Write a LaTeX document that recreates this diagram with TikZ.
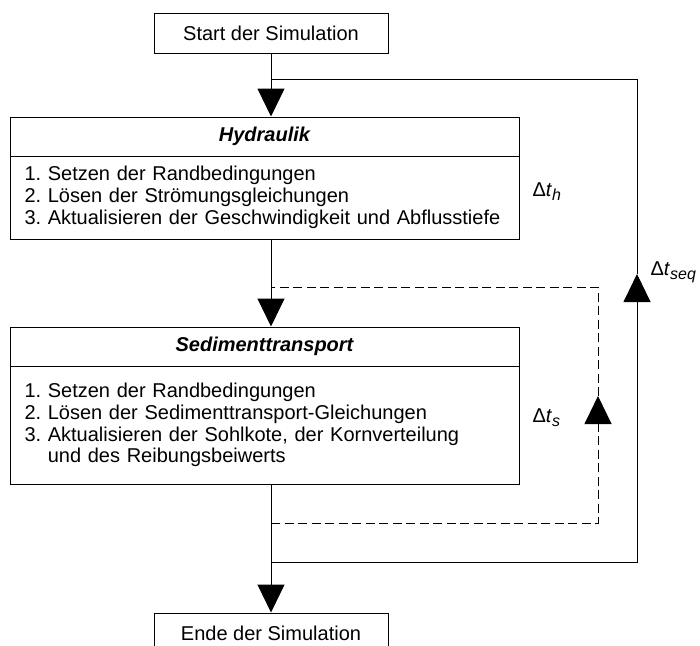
\documentclass[tikz,border=0pt]{standalone}
\usepackage{fontspec}
\setmainfont{Liberation Sans}
\usetikzlibrary{arrows.meta,positioning}

\newcommand{\zeitschritt}[1]{Δ\textit{t}\raisebox{-4.5pt}{\fontsize{16}{16}\selectfont\textit{#1}}}

\begin{document}
\frenchspacing
\begin{tikzpicture}[x=1pt, y=-1pt, line width=1pt,
		font=\fontsize{20}{21.7}\selectfont,
		termbox/.style={draw, minimum width=234pt, minimum height=40pt, inner sep=0pt},
		headbox/.style={draw, minimum width=509pt, minimum height=39pt, inner sep=0pt,
			font=\fontsize{20}{21.7}\selectfont\bfseries\itshape},
		listbox/.style={draw, minimum width=509pt, text width=480pt, align=left,
			inner sep=0pt},
		flow/.style={-{Triangle[length=28pt,width=27pt]}},
		backline/.style={dash pattern=on 9pt off 4.5pt},
		steplabel/.style={anchor=base west, inner sep=0pt}]
	\useasboundingbox (0,0) rectangle (700,645);

	% Kaesten
	\node[termbox] (start) at (271,33) {Start der Simulation};
	\node[headbox] (hydhead) at (264.5,136.5) {Hydraulik};
	\node[listbox, minimum height=83pt] (hydbody) at (264.5,197.5) {%
		1. Setzen der Randbedingungen\\
		2. Lösen der Strömungsgleichungen\\
		3. Aktualisieren der Geschwindigkeit und Abflusstiefe};
	\node[headbox] (sedhead) at (264.5,346.5) {Sedimenttransport};
	\node[listbox, minimum height=118pt] (sedbody) at (264.5,425) {%
		1. Setzen der Randbedingungen\\
		2. Lösen der Sedimenttransport-Gleichungen\\
		3. Aktualisieren der Sohlkote, der Kornverteilung\\
		\hphantom{3. }und des Reibungsbeiwerts};
	\node[termbox] (ende) at (271,633) {Ende der Simulation};

	% Hauptfluss
	\draw[flow] (start) -- (start |- hydhead.north);
	\draw[flow] (hydbody.south -| start) -- (sedhead.north -| start);
	\draw[flow] (sedbody.south -| start) -- (ende);

	% Schleife Sedimenttransport (gestrichelt)
	\coordinate (sedin)  at (271,523);
	\coordinate (sedout) at (271,287);
	\coordinate (sedtip) at (598,396);
	\draw[flow, backline] (sedin) -| (sedtip);
	\draw[backline] (sedtip) |- (sedout);

	% Schleife sequentiell
	\coordinate (seqin)  at (271,562);
	\coordinate (seqout) at (271,79);
	\coordinate (seqtip) at (637,274);
	\draw[flow] (seqin) -| (seqtip);
	\draw (seqtip) |- (seqout);

	% Zeitschritte
	\node[steplabel] (dth) at (532,196) {\zeitschritt{h}};
	\node[steplabel] (dts) at (532,422) {\zeitschritt{s}};
	\node[steplabel] (dtseq) at (650,275) {\zeitschritt{seq}};
\end{tikzpicture}
\end{document}
